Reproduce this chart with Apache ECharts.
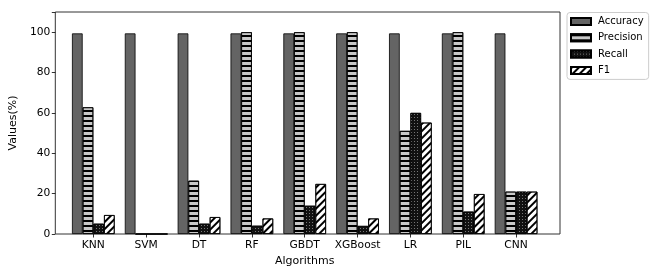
<!DOCTYPE html>
<html><head><meta charset="utf-8">
<script src="https://cdn.jsdelivr.net/npm/echarts@6/dist/echarts.min.js"></script>
<style>html,body{margin:0;padding:0;background:#fff}#c{width:654px;height:273px}</style>
</head><body><div id="c"></div>
<script>
const categories = ['KNN','SVM','DT','RF','GBDT','XGBoost','LR','PIL','CNN'];
const accuracy  = [99.4, 99.4, 99.4, 99.4, 99.4, 99.4, 99.4, 99.4, 99.4];
const precision = [62.8, 0, 26.4, 100, 100, 100, 51.1, 100, 21.0];
const recall    = [5.1, 0, 5.1, 4.1, 14.0, 4.0, 60.0, 11.1, 21.0];
const f1        = [9.4, 0, 8.4, 7.7, 24.8, 7.7, 55.2, 19.8, 21.0];
const yTicks = [0, 20, 40, 60, 80, 100];

const FONT = 'DejaVu Sans';
const chart = echarts.init(document.getElementById('c'), null, {renderer: 'canvas'});
const border = {borderColor: '#000', borderWidth: 0.8};
function bar(name, data, style) {
  return {name, type: 'bar', xAxisIndex: 1, yAxisIndex: 1, data, barWidth: 10.67, barGap: '0%',
    itemStyle: Object.assign({}, border, style), emphasis: {disabled: true}};
}
chart.setOption({
  animation: false,
  textStyle: {fontFamily: FONT},
  grid: [
    {left: 49, right: 94, top: 12, bottom: 39, show: true, borderColor: '#333', borderWidth: 1, backgroundColor: 'transparent'},
    {left: 66.9, right: 111.5, top: 12, bottom: 39}
  ],
  xAxis: [
    {type: 'value', gridIndex: 0, show: false, min: 0, max: 1},
    {type: 'category', gridIndex: 1, data: categories,
     axisLine: {show: false},
     axisTick: {show: true, alignWithLabel: true, interval: 0, length: 3.5, lineStyle: {color: '#000', width: 0.8}},
     axisLabel: {interval: 0, color: '#000', fontSize: 10.7, fontFamily: FONT, margin: 6},
     name: 'Algorithms', nameLocation: 'middle', nameGap: 21,
     nameTextStyle: {color: '#000', fontSize: 11, fontFamily: FONT}}
  ],
  yAxis: [
    {type: 'value', gridIndex: 0, min: 0, max: 110, interval: 20,
     axisLine: {show: false}, splitLine: {show: false},
     axisTick: {show: true, length: 3.5, lineStyle: {color: '#000', width: 0.8}},
     axisLabel: {color: '#000', fontSize: 10.7, fontFamily: FONT, margin: 5,
       formatter: v => yTicks.includes(v) ? String(v) : ''},
     name: 'Values(%)', nameLocation: 'middle', nameGap: 31,
     nameTextStyle: {color: '#000', fontSize: 11, fontFamily: FONT}},
    {type: 'value', gridIndex: 1, min: 0, max: 110, show: false}
  ],
  legend: {
    orient: 'vertical', left: 567, top: 12.5,
    itemWidth: 20, itemHeight: 7, itemGap: 6.3,
    padding: [4, 5, 4, 3],
    borderColor: '#ccc', borderWidth: 1, borderRadius: 3,
    icon: 'rect',
    textStyle: {color: '#000', fontSize: 10, fontFamily: FONT, padding: [0, 0, 0, 2]},
    data: ['Accuracy', 'Precision', 'Recall', 'F1']
  },
  series: [
    bar('Accuracy', accuracy, {color: '#646464'}),
    bar('Precision', precision, {color: '#c8c8c8',
      decal: {symbol: 'rect', symbolSize: 1, color: '#000', dashArrayX: [1, 0], dashArrayY: [1.4, 2.1], rotation: 0}}),
    bar('Recall', recall, {color: '#111',
      decal: {symbol: 'rect', symbolSize: 1, color: '#777', dashArrayX: [1, 1.6], dashArrayY: [1, 1.6], rotation: 0}}),
    bar('F1', f1, {color: '#fff',
      decal: {symbol: 'rect', symbolSize: 1, color: '#000', dashArrayX: [1, 0], dashArrayY: [1.6, 2.2], rotation: -Math.PI / 4}})
  ]
});
</script></body></html>
